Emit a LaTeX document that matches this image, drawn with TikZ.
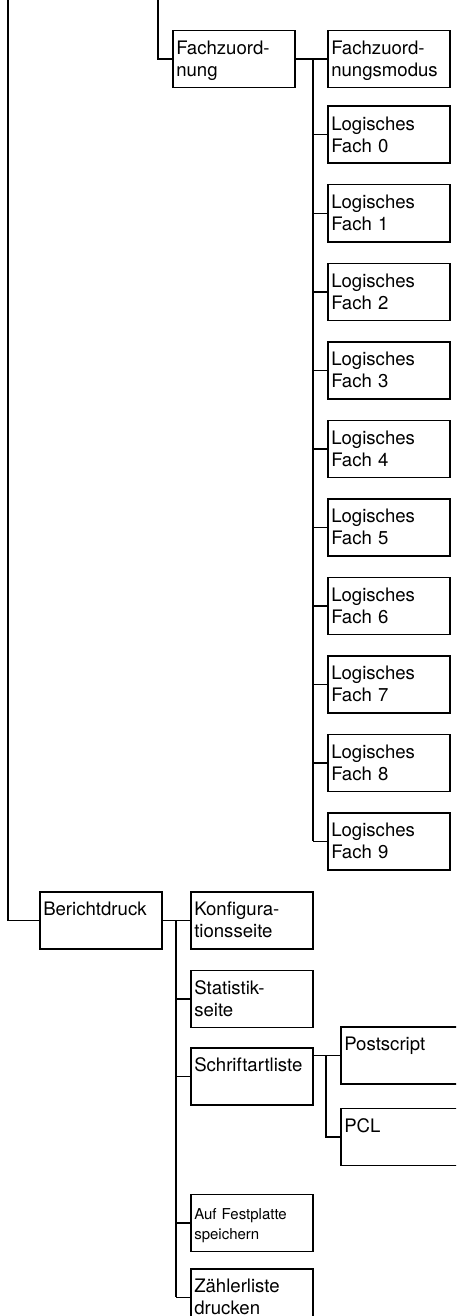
\documentclass[tikz,border=0pt]{standalone}
\usepackage{fontspec}
\setsansfont{TeX Gyre Heros}
\usetikzlibrary{positioning,calc}
\definecolor{ink}{HTML}{000000}
\tikzset{
  every node/.style={font=\sffamily},
  box/.style={draw=ink, line width=1.5pt, rectangle, anchor=north west, minimum width=122pt, text width=115pt, align=left, inner xsep=3.5pt, inner ysep=0pt, text height=24pt, text depth=33pt, text=ink, font=\sffamily\fontsize{18.6}{22}\selectfont},
  smallbox/.style={box, text height=25pt, text depth=32pt, font=\sffamily\fontsize{15}{20}\selectfont},
  link/.style={draw=ink, line width=1.5pt},
}
\begin{document}
\begin{tikzpicture}[x=1pt, y=-1pt]
\useasboundingbox (0,0) rectangle (456,1316);
\clip (0,0) rectangle (456,1316);
% Fachzuordnung
\node[box] (fz) at (172,30) {Fachzuord-\\nung};
\node[box] (fzm) at (327,30) {Fachzuord-\\nungsmodus};
\node[box, below=17pt of fzm] (f0) {Logisches\\Fach 0};
\foreach \i [count=\j from 0] in {1,...,9}
  \node[box, below=20pt of f\j] (f\i) {Logisches\\Fach \i};
\coordinate (ftop) at (158,0);
\coordinate (ftrunk) at (313,0);
\draw[link] (ftop) |- (fz.west);
\draw[link] (fz.east) -- (fzm.west);
\draw[link] (ftrunk |- fzm.west) -- (ftrunk |- f9.west);
\foreach \i in {0,...,9} \draw[link] (ftrunk |- f\i.west) -- (f\i.west);
% Berichtdruck
\coordinate (btop) at (8,0);
\node[box] (bd) at (39,891) {Berichtdruck};
\draw[link] (btop) |- (bd.west);
\node[box] (ks) at (190,891) {Konfigura-\\tionsseite};
\node[box, below=20pt of ks] (ss) {Statistik-\\seite};
\node[box, below=19pt of ss] (sl) {Schriftartliste};
\node[smallbox, below=88pt of sl] (af) {Auf Festplatte\\speichern};
\node[box, below=16pt of af] (zl) {Zählerliste\\drucken};
\coordinate (btrunk) at (176,0);
\draw[link] (bd.east) -- (ks.west);
\draw[link] (btrunk |- ks.west) -- (btrunk |- zl.west);
\foreach \n in {ss,sl,af,zl} \draw[link] (btrunk |- \n.west) -- (\n.west);
% Schriftartliste
\node[box] (ps) at (340,1026) {Postscript};
\node[box, below=23pt of ps] (pcl) {PCL};
\coordinate (strunk) at (326,0);
\draw[link] (sl.east |- ps.west) -- (ps.west);
\draw[link] (strunk |- ps.west) |- (pcl.west);
\end{tikzpicture}
\end{document}
